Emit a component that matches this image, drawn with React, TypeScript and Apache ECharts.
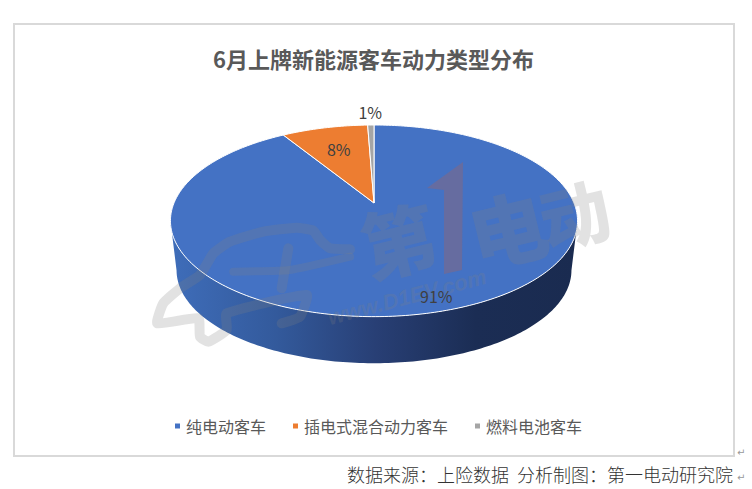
import React, { useEffect, useRef } from "react";
import * as echarts from "echarts";

const titleText = "6月上牌新能源客车动力类型分布";
const sourceText = "数据来源：上险数据  分析制图：第一电动研究院";
const categories = ["纯电动客车", "插电式混合动力客车", "燃料电池客车"];
const shareValues = [91.2, 8.2, 0.6];
const shareLabels = ["91%", "8%", "1%"];
const sliceColors = ["#4472c4", "#ed7d31", "#a5a5a5"];

const CJK = "'Noto Sans CJK SC', sans-serif";

// perspective disc: centre (CX, CY), k = foreshortening of the far side
const CX = 374, CY = 203, R = 200, B = 92.5, K = 0.186;
const project = (turn: number, r = 1, scale = 1, dy = 0): number[] => {
  const a = turn * Math.PI * 2;
  const X = r * Math.sin(a);
  const s = -r * Math.cos(a);
  const w = 1 - K * s;
  return [CX + (R * scale * X) / w, CY + dy + (B * scale * s) / w];
};
const arcPoints = (from: number, to: number, scale = 1, dy = 0) => {
  const n = Math.max(2, Math.ceil(Math.abs(to - from) * 360));
  const pts: number[][] = [];
  for (let i = 0; i <= n; i++) pts.push(project(from + ((to - from) * i) / n, 1, scale, dy));
  return pts;
};
const total = shareValues.reduce((a, b) => a + b, 0);
const startOf = (i: number) => shareValues.slice(0, i).reduce((a, b) => a + b, 0) / total;
const labelRadius = [0.89, 0.68, 1.2];
const labelTurnShift = [-0.0036, 0, 0];

const renderSlice = (idx: number) => () => {
  const from = startOf(idx);
  const to = startOf(idx + 1);
  const children: any[] = [];
  if (idx === 0) {
    const lower = arcPoints(0.28, 0.72, 0.97, 50);
    const upper = arcPoints(0.72, 0.28);
    children.push({
      type: "polygon",
      shape: { points: [...lower, ...upper] },
      style: {
        fill: {
          type: "linear", global: true, x: 176, y: 0, x2: 576, y2: 0,
          colorStops: [
            { offset: 0, color: "#3e6cb8" },
            { offset: 0.25, color: "#335a9c" },
            { offset: 0.5, color: "#283f75" },
            { offset: 0.75, color: "#1b2d54" },
            { offset: 1, color: "#1a2b50" },
          ],
        },
      },
    });
  }
  children.push({
    type: "polygon",
    shape: { points: [[CX, CY], ...arcPoints(from, to)] },
    style: { fill: sliceColors[idx], stroke: "#ffffff", lineWidth: 1 },
  });
  return { type: "group", children };
};

const renderLabel = (_p: any, api: any) => {
  const i = api.value(0);
  const [x, y] = project((startOf(i) + startOf(i + 1)) / 2 + labelTurnShift[i], labelRadius[i]);
  return {
    type: "text",
    x, y,
    style: {
      text: shareLabels[i], fill: "#404040", fontSize: 16, fontFamily: CJK,
      align: "center", verticalAlign: "middle",
    },
  };
};

const wm = "rgba(128,128,128,0.23)";
const crop = (pts: number[][]) => pts.map(([x, y]) => [150 + x / 3, 160 + y / 3]);
const carLine = (pts: number[][], width = 10) => ({
  type: "polyline", z: 3, silent: true,
  shape: { points: crop(pts), smooth: 0.15 },
  style: { stroke: wm, fill: "none", lineWidth: width, lineCap: "round", lineJoin: "round" },
});
const bigChar = (text: string, x: number, y: number, size: number) => ({
  type: "text", z: 3, silent: true, x, y, rotation: 0.24,
  style: {
    text, fill: wm, fontSize: size, fontWeight: 900, fontFamily: CJK,
    align: "center", verticalAlign: "middle",
  },
});

export default function App() {
  const ref = useRef<HTMLDivElement>(null);
  useEffect(() => {
    document.body.style.margin = "0";
    const chart = echarts.init(ref.current!, undefined, { renderer: "svg" });
    chart.setOption({
      animation: false,
      backgroundColor: "#ffffff",
      title: {
        text: titleText, left: 213, top: 47, padding: 0,
        textStyle: { fontSize: 22, fontWeight: "bold", color: "#595959", fontFamily: CJK },
      },
      legend: {
        data: categories, left: 175, top: 418, padding: 0,
        icon: "rect", itemWidth: 5, itemHeight: 5, itemGap: 27,
        textStyle: { fontSize: 16, color: "#595959", fontFamily: CJK, padding: [0, 0, 0, 1] },
      },
      graphic: [
        { type: "rect", z: 0, silent: true, shape: { x: 14, y: 24, width: 720, height: 432 }, style: { fill: "#fff", stroke: "#d9d9d9", lineWidth: 2 } },
        { type: "text", x: 347, y: 474, silent: true, style: { text: sourceText, fontSize: 18, fontFamily: CJK, fontWeight: 300, fill: "#333333", verticalAlign: "middle" } },
        { type: "text", x: 737, y: 452, silent: true, style: { text: "↵", fontSize: 10, fontFamily: "'DejaVu Sans'", fill: "#999999", verticalAlign: "middle" } },
        { type: "text", x: 737, y: 477, silent: true, style: { text: "↵", fontSize: 10, fontFamily: "'DejaVu Sans'", fill: "#999999", verticalAlign: "middle" } },
        // watermark
        carLine([[600, 268], [540, 265], [510, 240], [490, 212], [440, 203], [340, 215], [240, 245], [190, 280], [150, 345], [90, 385], [40, 430], [22, 490], [145, 475], [150, 530], [175, 545], [230, 510], [230, 460], [470, 405], [450, 470], [395, 490]]),
        carLine([[250, 335], [420, 330], [600, 290]], 8),
        carLine([[415, 265], [395, 385]], 10),
        bigChar("第", 398, 238, 75),
        bigChar("电", 507, 226, 78),
        bigChar("动", 574, 212, 70),
        {
          type: "text", z: 3, silent: true, x: 407, y: 297, rotation: 0.26,
          style: { text: "www.D1EV.com", fill: wm, fontSize: 22, fontWeight: "bold", fontStyle: "italic", fontFamily: "'Liberation Sans'", align: "center", verticalAlign: "middle" },
        },
        {
          type: "polygon", z: 3, silent: true,
          shape: { points: [[463, 162], [462, 270], [444, 274], [444, 190], [427, 188]] },
          style: { fill: "rgba(150,100,110,0.42)" },
        },
      ],
      series: [
        ...categories.map((name, i) => ({
          type: "custom", name, coordinateSystem: "none", z: 2, silent: true,
          itemStyle: { color: sliceColors[i] },
          data: [[shareValues[i]]],
          renderItem: renderSlice(i),
        })),
        {
          type: "custom", name: "labels", coordinateSystem: "none", z: 5, silent: true,
          data: shareLabels.map((_, i) => [i]),
          renderItem: renderLabel,
        },
      ],
    });
    return () => chart.dispose();
  }, []);
  return <div ref={ref} style={{ position: "fixed", left: 0, top: 0, width: 752, height: 489 }} />;
}
